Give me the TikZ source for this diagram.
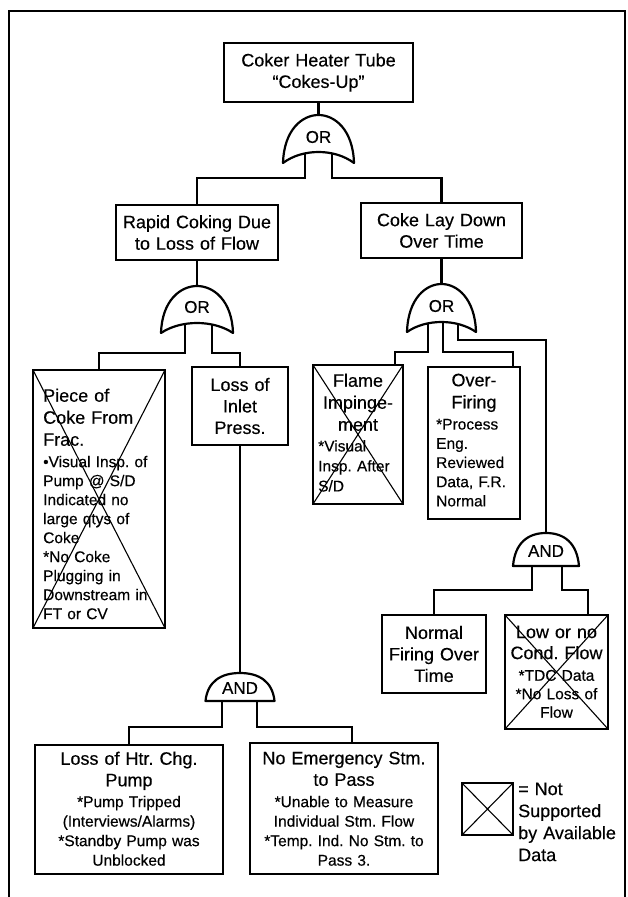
\documentclass[tikz,border=0pt]{standalone}
\usepackage{fontspec}
\setmainfont{Liberation Sans}[FakeBold=0.35]
\frenchspacing
\newcommand\ftORgate[5]{% cx, halfwidth, apex y, corner y, mid y
  \draw[gate] ({#1-#2},#4) .. controls ({#1-#2+1},{#4-0.7*(#4-#3)}) and ({#1-0.45*#2},#3) .. (#1,#3)
    .. controls ({#1+0.45*#2},#3) and ({#1+#2-1},{#4-0.7*(#4-#3)}) .. ({#1+#2},#4)
    .. controls ({#1+0.45*#2},{(8*#5-2*#4)/6}) and ({#1-0.45*#2},{(8*#5-2*#4)/6}) .. ({#1-#2},#4) -- cycle;}
\newcommand\ftANDgate[4]{% cx, halfwidth, top y, bottom y
  \draw[gate] ({#1-#2},#4) .. controls ({#1-#2+2},{#3+0.3*(#4-#3)}) and ({#1-0.55*#2},#3) .. (#1,#3)
    .. controls ({#1+0.55*#2},#3) and ({#1+#2-2},{#3+0.3*(#4-#3)}) .. ({#1+#2},#4) -- cycle;}
\begin{document}
\begin{tikzpicture}[x=1pt,y=-1pt,
  box/.style={draw, line width=2.2pt, inner sep=0pt, outer sep=0pt, anchor=north west},
  tbox/.style={box, align=center, font=\frenchspacing\fontsize{18}{21.5}\selectfont},
  xcross/.style={line width=1.1pt},
  conn/.style={line width=2.2pt},
  gate/.style={line width=2.2pt, fill=white, line join=round},
  ttl/.style={font=\frenchspacing\fontsize{18}{21.5}\selectfont, inner sep=0pt, anchor=north},
  det/.style={font=\frenchspacing\fontsize{15.5}{19.5}\selectfont, inner sep=0pt, anchor=north},
  glabel/.style={font=\fontsize{17}{17}\selectfont, inner sep=0pt},
  frame/.style={line width=2pt}]
\useasboundingbox (0,0) rectangle (628,897);
\draw[frame] (9,897) -- (9,11) -- (625,11) -- (625,897);

% boxes
\node[tbox, minimum width=189pt, minimum height=59pt, text width=180pt] (T) at (224,43) {Coker Heater Tube\\“Cokes-Up”};
\node[tbox, minimum width=162pt, minimum height=55pt, text width=158pt] (R) at (116,205) {Rapid Coking Due\\to Loss of Flow};
\node[tbox, minimum width=161pt, minimum height=55pt, text width=155pt] (C) at (361,203) {Coke Lay Down\\Over Time};
\node[box, minimum width=132pt, minimum height=258pt] (P) at (33,370) {};
\node[tbox, minimum width=96pt, minimum height=78pt, text width=90pt] (L) at (192,367) {Loss of\\Inlet\\Press.};
\node[box, minimum width=90pt, minimum height=139pt] (F) at (313,365) {};
\node[box, minimum width=92pt, minimum height=152pt] (O) at (428,367) {};
\node[tbox, minimum width=104pt, minimum height=78pt, text width=100pt] (NF) at (382,615) {Normal\\Firing Over\\Time};
\node[box, minimum width=103pt, minimum height=114pt] (LC) at (505,615) {};
\node[box, minimum width=188pt, minimum height=129pt] (H) at (35,745) {};
\node[box, minimum width=188pt, minimum height=131pt] (N) at (250,743) {};
\node[box, minimum width=51pt, minimum height=52pt] (K) at (462,783) {};

% crosses (not supported)
\draw[xcross] (P.north west) -- (P.south east) (P.north east) -- (P.south west);
\draw[xcross] (F.north west) -- (F.south east) (F.north east) -- (F.south west);
\draw[xcross] (LC.north west) -- (LC.south east) (LC.north east) -- (LC.south west);
\draw[xcross] (K.north west) -- (K.south east) (K.north east) -- (K.south west);

% box texts
\node[ttl, anchor=north west, text width=120pt, align=left, font=\frenchspacing\fontsize{18}{22}\selectfont] (Pt) at (43,388.5) {Piece of\\Coke From\\Frac.};
\node[det, anchor=north west, text width=120pt, align=left, font=\frenchspacing\fontsize{15.5}{19}\selectfont] (Pd) at (43,455.7) {•Visual Insp. of\\Pump @ S/D\\Indicated no\\large qtys of\\Coke\\{}*No Coke\\Plugging in\\Downstream in\\FT or CV};
\node[ttl, text width=84pt, align=center, font=\frenchspacing\fontsize{18}{22}\selectfont] (Ft) at (358,373.5) {Flame\\Impinge-\\ment};
\node[det, anchor=north west, text width=82pt, align=left, font=\frenchspacing\fontsize{15.5}{20}\selectfont] (Fd) at (318,440) {{}*Visual\\Insp. After\\S/D};
\node[ttl, text width=86pt, align=center, font=\frenchspacing\fontsize{18}{22}\selectfont] (Ot) at (474,373.5) {Over-\\Firing};
\node[det, anchor=north west, text width=82pt, align=left, font=\frenchspacing\fontsize{15.5}{19.2}\selectfont] (Od) at (436,418.7) {{}*Process\\Eng.\\Reviewed\\Data, F.R.\\Normal};
\node[ttl, text width=100pt, align=center, font=\frenchspacing\fontsize{18}{21}\selectfont] (LCt) at (556.5,625.5) {Low or no\\Cond. Flow};
\node[det, text width=100pt, align=center, font=\frenchspacing\fontsize{15.5}{18.5}\selectfont] (LCd) at (556.5,669.7) {{}*TDC Data\\{}*No Loss of\\Flow};
\node[ttl, text width=184pt, align=center] (Ht) at (129,751.5) {Loss of Htr. Chg.\\Pump};
\node[det, text width=184pt, align=center] (Hd) at (129,795.7) {{}*Pump Tripped\\(Interviews/Alarms)\\{}*Standby Pump was\\Unblocked};
\node[ttl, text width=186pt, align=center] (Nt) at (344,751.5) {No Emergency Stm.\\to Pass};
\node[det, text width=184pt, align=center] (Nd) at (344,795.7) {{}*Unable to Measure\\Individual Stm. Flow\\{}*Temp. Ind. No Stm. to\\Pass 3.};
\node[ttl, anchor=north west, text width=105pt, align=left, font=\frenchspacing\fontsize{18}{22}\selectfont] (Kt) at (518,782.5) {= Not\\Supported\\by Available\\Data};

% gate anchor points
\coordinate (g1top) at (318.5,115); \coordinate (g1l) at (305,153); \coordinate (g1r) at (332,153);
\coordinate (g2top) at (197,286); \coordinate (g2l) at (185,324); \coordinate (g2r) at (212,324);
\coordinate (g3top) at (441.5,284); \coordinate (g3a) at (428,323); \coordinate (g3b) at (443,323); \coordinate (g3c) at (458,323);
\coordinate (g4top) at (546,533); \coordinate (g4l) at (532,566); \coordinate (g4r) at (562,566);
\coordinate (g5top) at (240,673); \coordinate (g5l) at (222,701); \coordinate (g5r) at (257,701);
\coordinate (Ftop) at ([xshift=-8pt]F.north east);
\coordinate (Otop) at ([xshift=-7pt]O.north east);
\coordinate (LCtop) at ([xshift=-20pt]LC.north east);
\coordinate (Ntop) at ([xshift=8pt]N.north);

% connectors
\draw[conn] (T.south) -- (g1top);
\draw[conn] (g1l) -- ++(0,25) -| (R.north);
\draw[conn] (g1r) -- ++(0,25) -| (C.north);
\draw[conn] (R.south) -- (g2top);
\draw[conn] (g2l) -- ++(0,29) -| (P.north);
\draw[conn] (g2r) -- ++(0,29) -| (L.north);
\draw[conn] (C.south) -- (g3top);
\draw[conn] (g3a) -- ++(0,29) -| (Ftop);
\draw[conn] (g3b) -- ++(0,29) -| (Otop);
\draw[conn] (g3c) -- ++(0,17) -| (g4top);
\draw[conn] (g4l) -- ++(0,24) -| (NF.north);
\draw[conn] (g4r) -- ++(0,24) -| (LCtop);
\draw[conn] (L.south) -- (g5top);
\draw[conn] (g5l) -- ++(0,26) -| (H.north);
\draw[conn] (g5r) -- ++(0,26) -| (Ntop);

% gates
\ftORgate{318.5}{35.5}{115}{163}{152}
\ftORgate{197}{36}{286}{333}{323}
\ftORgate{441.5}{34.5}{284}{332}{322}
\ftANDgate{546}{33}{533}{566}
\ftANDgate{240}{34.5}{673}{701}
\node[glabel] (g1) at (318.5,137) {OR};
\node[glabel] (g2) at (197,307) {OR};
\node[glabel] (g3) at (441.5,306) {OR};
\node[glabel] (g4) at (546,551) {AND};
\node[glabel] (g5) at (240,688) {AND};
\end{tikzpicture}
\end{document}
